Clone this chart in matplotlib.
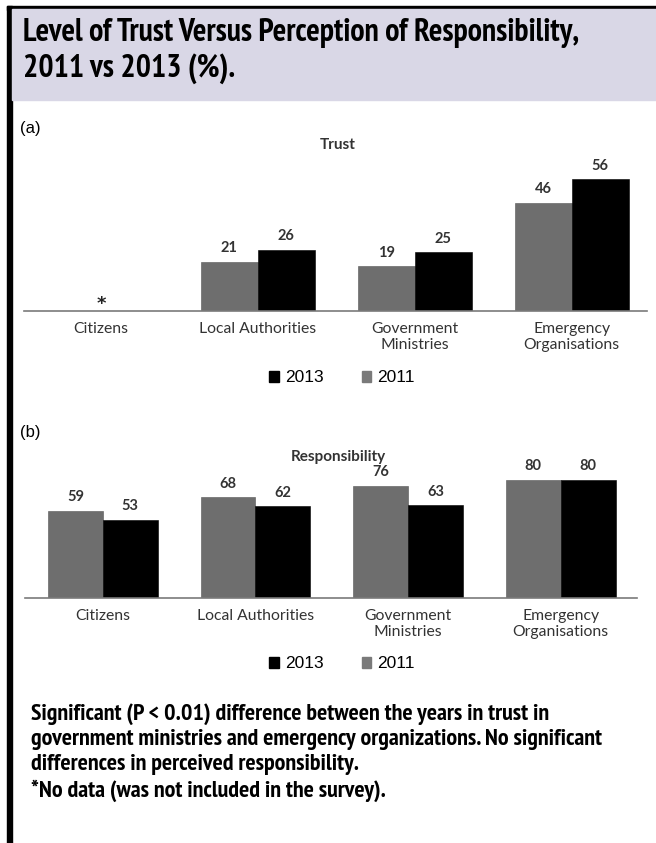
import matplotlib
matplotlib.use("Agg")
import matplotlib.pyplot as plt
from matplotlib import font_manager as fm
from matplotlib.font_manager import FontProperties
from matplotlib.patches import Rectangle, Patch

# data
categories = ["Citizens", "Local Authorities", "Government\nMinistries", "Emergency\nOrganisations"]
trust_2011 = [None, 21, 19, 46]
trust_2013 = [None, 26, 25, 56]
resp_2011 = [59, 68, 76, 80]
resp_2013 = [53, 62, 63, 80]

title = "Level of Trust Versus Perception of Responsibility,\n2011 vs 2013 (%)."
note = ("Significant (P < 0.01) difference between the years in trust in\n"
        "government ministries and emergency organizations. No significant\n"
        "differences in perceived responsibility.\n"
        "*No data (was not included in the survey).")

GRAY = "#6e6e6e"
BLACK = "#000000"
W, H = 656, 843
CAL = ["Lato", "DejaVu Sans"]


def narrow_bold():
    # any narrow / condensed bold face, best guess first; else Roboto bold
    bold = [f for f in fm.fontManager.ttflist if f.weight in (700, "bold")]
    for key in ["narrow", "roboto condensed", "condensed"]:
        for f in bold:
            if key in f.name.lower():
                return FontProperties(fname=f.fname)
    for f in bold:
        if f.stretch in ("condensed", "semi-condensed", "extra-condensed"):
            return FontProperties(fname=f.fname)
    return FontProperties(family=["Roboto", "DejaVu Sans"], weight="bold")


NARROW = narrow_bold()

fig = plt.figure(figsize=(W / 100, H / 100), dpi=100)


def fx(px):
    return px / W


def fy(py):
    return 1 - py / H


def fit_width(t, target, first_line):
    # scale a text so that the given line spans `target` pixels
    r = fig.canvas.get_renderer()
    probe = fig.text(0, 0, first_line, fontproperties=t.get_fontproperties())
    w = probe.get_window_extent(r).width
    probe.remove()
    t.set_fontsize(t.get_fontsize() * target / w)


# frame + header band
fig.patches.append(Rectangle((fx(7), 0), fx(5), fy(6), transform=fig.transFigure,
                             color="black", zorder=0))
fig.patches.append(Rectangle((fx(7), fy(9.5)), 1, 3.5 / H, transform=fig.transFigure,
                             color="black", zorder=0))
fig.patches.append(Rectangle((fx(12), fy(100)), 1, 90.5 / H, transform=fig.transFigure,
                             color="#d9d7e6", zorder=0))
tt = fig.text(fx(23), fy(51), title, fontproperties=NARROW, fontsize=18,
              va="center", ha="left", linespacing=1.2)
fit_width(tt, 562, title.split("\n")[0])


def panel(rect, v11, v13, ymax, xlim, bw, name, sub, sub_y, name_y, leg_y):
    ax = fig.add_axes(rect)
    x = list(range(len(categories)))
    for i in x:
        if v11[i] is None:
            ax.text(i, 2.8, "*", ha="center", va="center", fontsize=13, weight="bold",
                    color="#222222")
            continue
        ax.bar(i - bw / 2, v11[i], bw, color=GRAY, edgecolor="#555555", linewidth=0.4)
        ax.bar(i + bw / 2, v13[i], bw, color=BLACK, edgecolor=BLACK, linewidth=0.4)
        for xx, v in [(i - bw / 2, v11[i]), (i + bw / 2, v13[i])]:
            ax.annotate(str(v), (xx, v), xytext=(0, 4.5), textcoords="offset points",
                        ha="center", va="bottom", family=CAL, weight="bold", fontsize=10.5,
                        color="#333333")
    ax.set_xlim(*xlim)
    ax.set_ylim(0, ymax)
    ax.set_xticks(x)
    ax.set_xticklabels(categories, family=CAL, fontsize=11.3, color="#333333", linespacing=1.2)
    ax.tick_params(axis="x", length=0, pad=8)
    ax.set_yticks([])
    for s in ["top", "left", "right"]:
        ax.spines[s].set_visible(False)
    ax.spines["bottom"].set_color("#7a7a7a")
    ax.spines["bottom"].set_linewidth(1.2)
    fig.text(fx(20), fy(sub_y), sub, family=["Liberation Sans", "DejaVu Sans"], fontsize=12,
             va="center", ha="left")
    fig.text(fx(338), fy(name_y), name, family=CAL, weight="bold", fontsize=11,
             color="#333333", va="center", ha="center")
    handles = [Patch(color=BLACK, label="2013"), Patch(color="#7a7a7a", label="2011")]
    fig.legend(handles=handles, loc="center", bbox_to_anchor=(fx(342), fy(leg_y)), ncol=2,
               frameon=False, handlelength=0.55, handleheight=0.55, handletextpad=0.35,
               columnspacing=2.2, prop={"family": ["Liberation Sans", "DejaVu Sans"], "size": 12.5})
    return ax


panel([fx(24), fy(311), fx(647 - 24), 141.4 / H], trust_2011, trust_2013, 60,
      (-0.49, 3.48), 0.363, "Trust", "(a)", 128, 145, 378)
panel([fx(25), fy(598), fx(637 - 25), 125.8 / H], resp_2011, resp_2013, 85,
      (-0.51, 3.5), 0.36, "Responsibility", "(b)", 433, 457, 664)

nt = fig.text(fx(31), fy(753), note, fontproperties=NARROW, fontsize=12,
              va="center", ha="left", linespacing=1.25)
fit_width(nt, 570, note.split("\n")[1])

fig.savefig("out.png", dpi=100)
